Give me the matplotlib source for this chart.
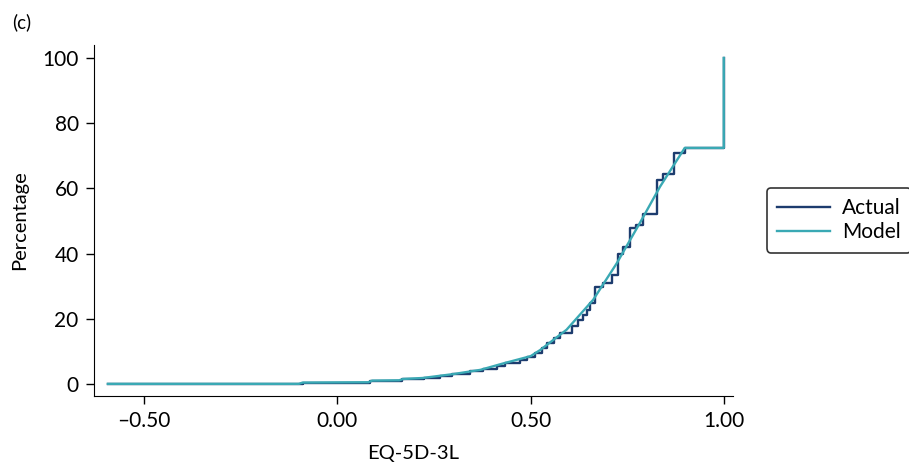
import numpy as np
import matplotlib
matplotlib.use('Agg')
import matplotlib.pyplot as plt

plt.rcParams['font.family'] = ['Lato', 'DejaVu Sans']

# observed cumulative distribution (step function), EQ-5D-3L value vs %
actual_x = [-0.594, -0.09, 0.085, 0.167, 0.223, 0.266, 0.296, 0.344, 0.378,
            0.413, 0.434, 0.473, 0.49, 0.512, 0.53, 0.542, 0.56, 0.576, 0.606,
            0.623, 0.635, 0.645, 0.654, 0.667, 0.688, 0.71, 0.725, 0.74, 0.757,
            0.774, 0.79, 0.826, 0.843, 0.871, 0.899, 1.0]
actual_y = [0, 0.4, 1.0, 1.4, 1.7, 2.3, 3.0, 3.8, 4.5,
            5.6, 6.5, 7.4, 8.3, 9.4, 11.0, 12.5, 14.0, 15.7, 17.8,
            19.5, 21.0, 22.7, 24.8, 29.8, 31.0, 33.4, 40.0, 42.1, 47.8,
            48.8, 52.2, 62.6, 64.3, 70.7, 72.4, 100]

# model predicted cumulative distribution
model_x = [-0.594, -0.1, -0.09, 0.08, 0.09, 0.16, 0.17, 0.22, 0.3, 0.37, 0.43,
           0.5, 0.525, 0.593, 0.662, 0.723, 0.783, 0.835, 0.899, 1.0, 1.0]
model_y = [0, 0, 0.4, 0.5, 1.0, 1.1, 1.5, 1.8, 3.0, 4.3, 6.3,
           8.5, 10.4, 16.6, 25.8, 37.0, 49.4, 60.5, 72.4, 72.4, 100]

xticks = [-0.5, 0.0, 0.5, 1.0]
xtick_labels = ['\u20130.50', '0.00', '0.50', '1.00']
yticks = [0, 20, 40, 60, 80, 100]

fig = plt.figure(figsize=(9.09, 4.68), dpi=100)
ax = fig.add_axes([0.1034, 0.154, 0.7026, 0.750])

ax.plot(actual_x, actual_y, drawstyle='steps-post', color='#1d3c6e', lw=1.7, label='Actual')
ax.plot(model_x, model_y, color='#3aa9b4', lw=1.7, label='Model')

ax.set_xlim(-0.63, 1.023)
ax.set_ylim(-3.7, 104)
ax.set_xticks(xticks)
ax.set_xticklabels(xtick_labels)
ax.set_yticks(yticks)
ax.tick_params(labelsize=15, length=6, width=1, direction='out', pad=5)
ax.spines['top'].set_visible(False)
ax.spines['right'].set_visible(False)
ax.set_xlabel('EQ-5D-3L', fontsize=14.5, labelpad=10)
ax.set_ylabel('Percentage', fontsize=14.5, labelpad=10)

leg = fig.legend(loc='center left', bbox_to_anchor=(767 / 909, 1 - 220 / 468),
                 fontsize=15, frameon=True, fancybox=True, edgecolor='black',
                 handlelength=2.5, borderpad=0.5, labelspacing=0.2,
                 borderaxespad=0, handletextpad=0.6)
leg.get_frame().set_linewidth(1.2)

fig.text(12 / 909, 1 - 22 / 468, '(c)', fontsize=13.5, va='center')

fig.savefig('out.png', dpi=100)
